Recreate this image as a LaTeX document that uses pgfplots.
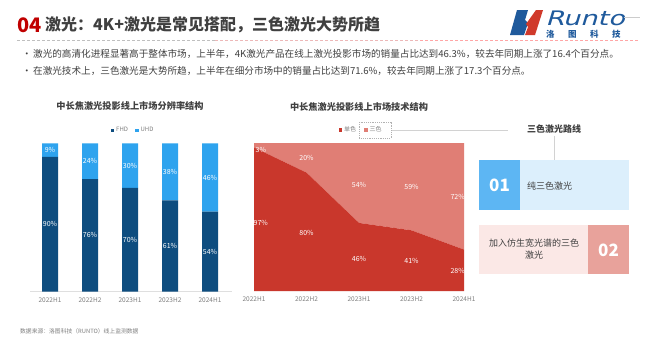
\documentclass[border=0pt]{standalone}
\usepackage{pgfplots}
\pgfplotsset{compat=1.18}
\usepackage{pgfplotstable}
\usepackage{fontspec}
\setmainfont{Noto Sans CJK SC}
\newfontfamily\logofont[FakeSlant=0.22]{DejaVu Sans}
\definecolor{titlered}{HTML}{C00000}
\definecolor{txt}{HTML}{404040}
\definecolor{tick}{HTML}{7F7F7F}
\definecolor{fhd}{HTML}{0E4D7F}
\definecolor{uhd}{HTML}{2EA3EE}
\definecolor{mono}{HTML}{C9372C}
\definecolor{tri}{HTML}{E07E75}
\definecolor{boxAsq}{HTML}{5DB6F3}
\definecolor{boxAbg}{HTML}{DCEFFC}
\definecolor{boxBsq}{HTML}{E8A29B}
\definecolor{boxBbg}{HTML}{FBE8E6}
\definecolor{logoblue}{HTML}{1F5A9C}
\definecolor{logored}{HTML}{D03A2B}

\pgfplotstableread{
x fhd uhd
0 90.9 9.1
1 76 24
2 70 30
3 61.6 38.4
4 54 46
}\resdata
\pgfplotstableread{
x y l
0 45.45 90
1 38 76
2 35 70
3 30.8 61
4 27 54
0 95.45 9
1 88 24
2 85 30
3 80.8 38
4 77 46
}\reslabels
\pgfplotstableread{
x mono tri
0 97 3
1 80 20
2 46 54
3 41 59
4 28 72
}\techdata
\pgfplotstableread{
x y l
0.13 95 3
1 90 20
2 72 54
3 70 59
3.88 63.5 72
0.13 46 97
1 39 80
2 22 46
3 20 41
3.88 13.5 28
}\techlabels

\begin{document}
\begin{tikzpicture}
\begin{scope}[x=1bp,y=-1bp]
\useasboundingbox[fill=white] (0,0) rectangle (650,337);
% title
\node[anchor=base west, inner sep=0, text=titlered, font=\fontsize{20bp}{22bp}\selectfont\bfseries] at (17,32) {04};
\node[anchor=base west, inner sep=0, text=txt, font=\fontsize{16bp}{18bp}\selectfont\bfseries] at (45,30.5) {激光：4K+激光是常见搭配，三色激光大势所趋};
% logo
\fill[logoblue] (510,35) -- (517,10) -- (528,10) -- (525,20) -- (528,23) -- (524,35) -- cycle;
\fill[logored] (526,24) -- (536,10) -- (543,10) -- (535,35) -- (525,35) -- (528,27) -- cycle;
\node[anchor=base west, inner sep=0, text=logoblue, font=\logofont\fontsize{20bp}{22bp}\selectfont, xscale=1.36] at (545,25) {Runto};
\node[anchor=base west, inner sep=0, text=logoblue, font=\fontsize{8.5bp}{9bp}\selectfont\bfseries] at (546,37) {洛\hspace{13.5bp}图\hspace{13.5bp}科\hspace{13.5bp}技};
\draw[gray!40, line width=0.8bp] (624,17) -- (640,17);
\draw[gray!50, dash pattern=on 3bp off 2bp, line width=0.7bp] (17,40.5) -- (215,40.5);
\draw[gray!40!red!35, dash pattern=on 3bp off 2bp, line width=0.7bp] (215,40.5) -- (420,40.5);
\draw[red!35, dash pattern=on 3bp off 2bp, line width=0.7bp] (420,40.5) -- (640,40.5);
% bullets
\node[anchor=base west, inner sep=0, text=txt, font=\fontsize{9.5bp}{10bp}\selectfont] at (22,57) {•};
\node[anchor=base west, inner sep=0, text=txt, font=\fontsize{9.6bp}{10bp}\selectfont] at (33,57) {激光的高清化进程显著高于整体市场，上半年，4K激光产品在线上激光投影市场的销量占比达到46.3\%，较去年同期上涨了16.4个百分点。};
\node[anchor=base west, inner sep=0, text=txt, font=\fontsize{9.5bp}{10bp}\selectfont] at (22,74) {•};
\node[anchor=base west, inner sep=0, text=txt, font=\fontsize{9.6bp}{10bp}\selectfont] at (33,74) {在激光技术上，三色激光是大势所趋，上半年在细分市场中的销量占比达到71.6\%，较去年同期上涨了17.3个百分点。};
% chart titles
\node[inner sep=0, text=txt, font=\fontsize{9.2bp}{10bp}\selectfont\bfseries] at (130,106) {中长焦激光投影线上市场分辨率结构};
\node[inner sep=0, text=txt, font=\fontsize{9.2bp}{10bp}\selectfont\bfseries] at (359,107) {中长焦激光投影线上市场技术结构};
% right side
\draw[gray!35, line width=0.8bp] (391,130) -- (508,130);
\node[inner sep=0, text=txt, font=\fontsize{9bp}{10bp}\selectfont\bfseries] at (554,129) {三色激光路线};
\draw[gray!35, line width=1bp] (554,136) -- (554,160);
\fill[boxAbg] (479,160) rectangle (629,210);
\fill[boxAsq] (479,160) rectangle (520,210);
\node[inner sep=0, text=white, font=\fontsize{17bp}{18bp}\selectfont\bfseries] at (499.5,185.5) {01};
\node[anchor=west, inner sep=0, text=txt, font=\fontsize{9bp}{10bp}\selectfont] at (527,186) {纯三色激光};
\fill[boxBbg] (479,225) rectangle (629,274);
\fill[boxBsq] (588,225) rectangle (629,274);
\node[inner sep=0, text=white, font=\fontsize{17bp}{18bp}\selectfont\bfseries] at (608.5,250) {02};
\node[inner sep=0, align=center, text=txt, font=\fontsize{9bp}{12bp}\selectfont] at (534,249) {加入仿生宽光谱的三色\\激光};
% footer
\node[anchor=base west, inner sep=0, text=tick, font=\fontsize{5.8bp}{7bp}\selectfont] at (20,333) {数据来源：洛图科技（RUNTO）线上监测数据};
\end{scope}

% ---------- bar chart ----------
\begin{axis}[at={(30bp,-291.7bp)}, anchor=south west, scale only axis,
  width=202bp, height=148.3bp, xmin=-0.5, xmax=4.55, ymin=0, ymax=100,
  enlargelimits=false, ybar stacked, bar width=16bp,
  axis y line=none, axis x line*=bottom, axis line style={draw=gray!25, line width=0.7bp},
  xtick={0,1,2,3,4}, xticklabels={2022H1,2022H2,2023H1,2023H2,2024H1},
  major tick length=0pt,
  x tick label style={font=\fontsize{6.5bp}{7bp}\selectfont, text=tick, yshift=-2.5bp},
  legend style={at={(0.51,1.088)}, anchor=center, draw=none, fill=none, legend columns=-1,
    font=\fontsize{6bp}{7bp}\selectfont, text=tick, inner sep=0pt,
    /tikz/every even column/.append style={column sep=5bp}},
  clip=false]
\addplot[fill=fhd, draw=none, legend image code/.code={\fill[fhd] (0bp,-1.8bp) rectangle (3.6bp,1.8bp);}] table[x=x,y=fhd]{\resdata};
\addplot[fill=uhd, draw=none, legend image code/.code={\fill[uhd] (0bp,-1.8bp) rectangle (3.6bp,1.8bp);}] table[x=x,y=uhd]{\resdata};
\legend{FHD,UHD}
\end{axis}
\begin{axis}[at={(30bp,-291.7bp)}, anchor=south west, scale only axis,
  width=202bp, height=148.3bp, xmin=-0.5, xmax=4.55, ymin=0, ymax=100,
  enlargelimits=false, hide axis, clip=false]
\addplot[draw=none, mark=none, point meta=explicit symbolic,
  nodes near coords={\pgfplotspointmeta\%},
  every node near coord/.style={anchor=center, text=white, font=\fontsize{7bp}{8bp}\selectfont}]
  table[x=x,y=y,meta=l]{\reslabels};
\end{axis}

% ---------- area chart ----------
\begin{axis}[at={(254bp,-291bp)}, anchor=south west, scale only axis,
  width=210bp, height=148bp, xmin=0, xmax=4, ymin=0, ymax=100,
  enlargelimits=false, stack plots=y,
  axis y line=none, axis x line*=bottom, axis line style={draw=none},
  xtick={0,1,2,3,4}, xticklabels={2022H1,2022H2,2023H1,2023H2,2024H1},
  major tick length=0pt,
  x tick label style={font=\fontsize{6.5bp}{7bp}\selectfont, text=tick, yshift=-2bp},
  legend style={at={(0.51,1.088)}, anchor=center, draw=none, fill=none, legend columns=-1,
    font=\fontsize{6bp}{7bp}\selectfont, text=tick, inner sep=0pt,
    /tikz/every even column/.append style={column sep=6bp}},
  clip=false]
\addplot[fill=mono, draw=none, legend image code/.code={\fill[mono] (0bp,-1.8bp) rectangle (3.6bp,1.8bp);}] table[x=x,y=mono]{\techdata} \closedcycle;
\addplot[fill=tri, draw=none, legend image code/.code={\fill[tri] (0bp,-1.8bp) rectangle (3.6bp,1.8bp);}] table[x=x,y=tri]{\techdata} \closedcycle;
\legend{单色,三色}
\end{axis}
\begin{axis}[at={(254bp,-291bp)}, anchor=south west, scale only axis,
  width=210bp, height=148bp, xmin=0, xmax=4, ymin=0, ymax=100,
  enlargelimits=false, hide axis, clip=false]
\addplot[draw=none, mark=none, point meta=explicit symbolic,
  nodes near coords={\pgfplotspointmeta\%},
  every node near coord/.style={anchor=center, text=white, font=\fontsize{7bp}{8bp}\selectfont}]
  table[x=x,y=y,meta=l]{\techlabels};
\end{axis}

\begin{scope}[x=1bp,y=-1bp]
\draw[gray!60, dash pattern=on 1.2bp off 1bp, line width=0.5bp] (359,122) rectangle (391,138);
\end{scope}
\end{tikzpicture}
\end{document}
